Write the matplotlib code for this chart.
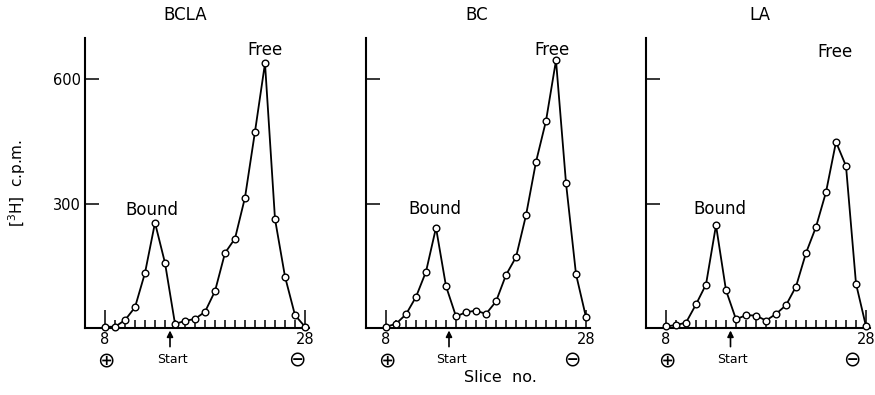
import numpy as np
import matplotlib
matplotlib.use("Agg")
import matplotlib.pyplot as plt

slices = list(range(8, 29))
bcla = [3, 3, 19, 50, 133, 254, 157, 10, 17, 22, 39, 89, 181, 216, 315, 474, 639, 263, 124, 31, 3]
bc = [3, 10, 33, 75, 136, 242, 101, 28, 38, 42, 34, 64, 128, 171, 272, 401, 500, 646, 350, 130, 26]
la = [4, 7, 13, 57, 105, 248, 91, 21, 31, 30, 18, 34, 55, 100, 181, 244, 328, 449, 391, 107, 4]

titles = ["BCLA", "BC", "LA"]
series = [bcla, bc, la]
start_pos = [14.5, 14.3, 14.45]
yticks = [300, 600]

plt.rcParams['font.family'] = ['DejaVu Sans']

fig = plt.figure(figsize=(8.75, 3.95), dpi=100)
W, H = 875.0, 395.0
lefts = [85, 366, 646]
axes = [fig.add_axes([l / W, 67 / H, 224 / W, 290 / H]) for l in lefts]

title_x = [16.0, 17.1, 17.4]
free_xy = [(24.0, 672), (24.6, 672), (24.9, 667)]
bound_xy = [(12.7, 284), (12.9, 287), (13.4, 287)]
minus_x = [27.2, 26.6, 26.6]

for i, ax in enumerate(axes):
    ax.plot(slices, series[i], color="black", lw=1.3, marker="o", ms=4.8,
            mfc="white", mec="black", mew=1.0, clip_on=False, zorder=3)
    ax.set_xlim(6.0, 28.4)
    ax.set_ylim(0, 700)
    for s in ["top", "right"]:
        ax.spines[s].set_visible(False)
    ax.spines["left"].set_linewidth(1.5)
    ax.spines["bottom"].set_linewidth(1.5)

    ax.set_xticks([8, 28])
    ax.set_xticklabels(["8", "28"], fontsize=10.5)
    ax.set_xticks(range(9, 28), minor=True)
    ax.tick_params(axis="x", which="major", direction="in", length=13, width=1.1, pad=3)
    ax.tick_params(axis="x", which="minor", direction="in", length=6, width=1.1)

    ax.set_yticks(yticks)
    ax.tick_params(axis="y", which="major", direction="in", length=10, width=1.1, pad=3)
    if i == 0:
        ax.set_yticklabels([str(v) for v in yticks], fontsize=10.5)
        ax.set_ylabel("[$^3$H]  c.p.m.", fontsize=11, labelpad=18)
    else:
        ax.set_yticklabels([])

    ax.text(title_x[i], 755, titles[i], ha="center", va="center", fontsize=12, clip_on=False)
    ax.text(free_xy[i][0], free_xy[i][1], "Free", ha="center", va="center", fontsize=12)
    ax.text(bound_xy[i][0], bound_xy[i][1], "Bound", ha="center", va="center", fontsize=12)

    # start arrow and electrode signs
    ax.annotate("", xy=(start_pos[i], -6), xytext=(start_pos[i], -45),
                xycoords="data", annotation_clip=False,
                arrowprops=dict(arrowstyle="-|>", color="black", lw=1.2,
                                mutation_scale=9, shrinkA=0, shrinkB=0))
    ax.text(start_pos[i] + 0.2, -76, "Start", ha="center", va="center", fontsize=9, clip_on=False)
    ax.text(8.1, -79, "\u2295", ha="center", va="center", fontsize=15, clip_on=False)
    ax.text(minus_x[i], -79, "\u2296", ha="center", va="center", fontsize=15, clip_on=False)

fig.text(500 / W, 1 - 377 / H, "Slice  no.", ha="center", va="center", fontsize=11.5)

fig.savefig("out.png", dpi=100)
